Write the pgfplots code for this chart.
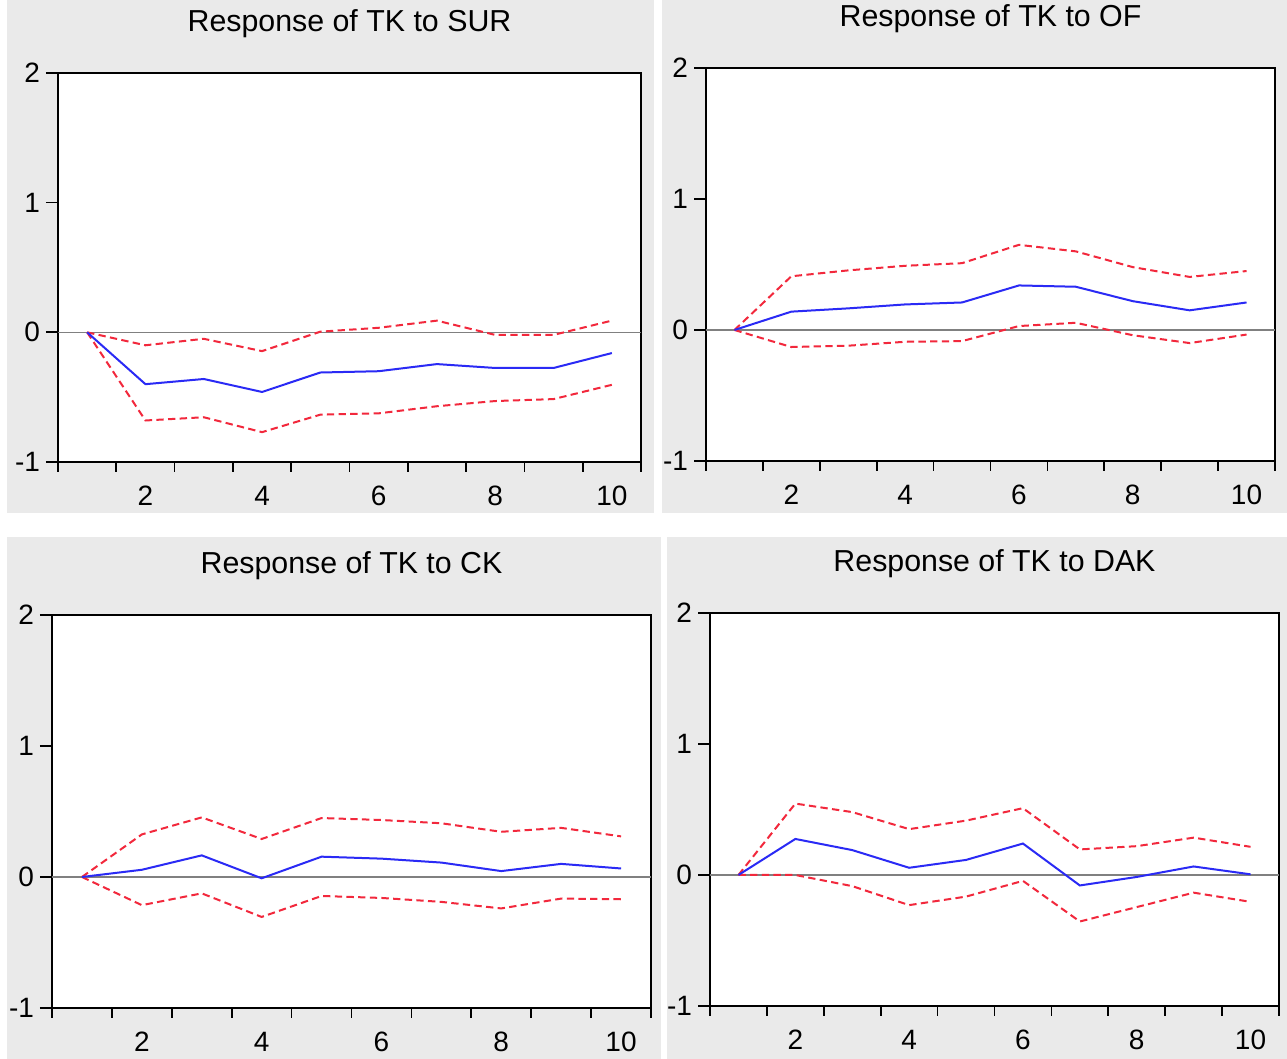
\documentclass[border=0pt]{standalone}
\usepackage{fontspec}
\setmainfont{Liberation Sans}
\usepackage{pgfplots}
\pgfplotsset{compat=1.18}
\definecolor{evgray}{HTML}{EAEAEA}
\definecolor{evblue}{HTML}{2A2AF5}
\definecolor{evred}{HTML}{F2283C}
\pgfplotsset{
  irf/.style={scale only axis, xmin=0.5, xmax=10.5, ymin=-1, ymax=2,
    axis background/.style={fill=white},
    axis line style={line width=0.7pt},
    xtick={2,4,6,8,10}, xticklabels={2,4,6,8,10},
    ytick={-1,0,1,2}, yticklabels={\llap{-1},\llap{0},\llap{1},\llap{2}},
    minor xtick={0.5,1.5,...,10.5},
    tick align=outside, xtick pos=bottom, ytick pos=left,
    major x tick style={draw=none},
    minor tick length=3pt, major tick length=3.6pt,
    tick style={black, line width=0.5pt},
    ticklabel style={font=\fontsize{8.4}{10}\selectfont},
    xticklabel style={anchor=center, yshift=-6.6pt},
    yticklabel style={anchor=center, xshift=-1.8pt},
    title style={at={(0.5,1)}, anchor=center, yshift=8.7pt,
      font=\fontsize{9.1}{10}\selectfont},
  },
  resp/.style={evblue, line width=0.6pt},
  band/.style={evred, line width=0.6pt, dash pattern=on 2.2pt off 1.3pt},
  zero/.style={gray, line width=0.35pt},
}
\begin{document}
\begin{tikzpicture}[x=1pt,y=1pt]
\useasboundingbox (0,0) rectangle (386.1,317.7);
\fill[white] (0,0) rectangle (386.1,317.7);
\fill[evgray] (2.1,163.8) rectangle (196.2,317.7);
\fill[evgray] (198.6,163.8) rectangle (386.1,317.7);
\fill[evgray] (2.1,0) rectangle (198.3,156.6);
\fill[evgray] (200.1,0) rectangle (386.1,156.6);

% Response of TK to SUR
\begin{axis}[irf, at={(17.4pt,179.1pt)}, anchor=south west,
  width=174.9pt, height=116.7pt, title={Response of TK to SUR}]
\addplot[zero] coordinates {(0.5,0) (10.5,0)};
\addplot[band] coordinates {(1,0) (2,-0.10) (3,-0.05) (4,-0.145) (5,0.005) (6,0.035) (7,0.09) (8,-0.02) (9,-0.02) (10,0.09)};
\addplot[band] coordinates {(1,0) (2,-0.68) (3,-0.655) (4,-0.77) (5,-0.635) (6,-0.625) (7,-0.57) (8,-0.53) (9,-0.515) (10,-0.405)};
\addplot[resp] coordinates {(1,0) (2,-0.40) (3,-0.36) (4,-0.46) (5,-0.31) (6,-0.30) (7,-0.245) (8,-0.275) (9,-0.275) (10,-0.16)};
\end{axis}

% Response of TK to OF
\begin{axis}[irf, at={(211.8pt,179.4pt)}, anchor=south west,
  width=170.7pt, height=117.9pt, title={Response of TK to OF}]
\addplot[zero] coordinates {(0.5,0) (10.5,0)};
\addplot[band] coordinates {(1,0) (2,0.41) (3,0.455) (4,0.49) (5,0.51) (6,0.65) (7,0.60) (8,0.48) (9,0.405) (10,0.45)};
\addplot[band] coordinates {(1,0) (2,-0.13) (3,-0.12) (4,-0.09) (5,-0.085) (6,0.03) (7,0.055) (8,-0.04) (9,-0.10) (10,-0.035)};
\addplot[resp] coordinates {(1,0) (2,0.14) (3,0.165) (4,0.195) (5,0.21) (6,0.34) (7,0.33) (8,0.22) (9,0.15) (10,0.21)};
\end{axis}

% Response of TK to CK
\begin{axis}[irf, at={(15.6pt,15.3pt)}, anchor=south west,
  width=179.7pt, height=117.9pt, title={Response of TK to CK}]
\addplot[zero] coordinates {(0.5,0) (10.5,0)};
\addplot[band] coordinates {(1,0) (2,0.325) (3,0.455) (4,0.29) (5,0.45) (6,0.435) (7,0.41) (8,0.345) (9,0.375) (10,0.31)};
\addplot[band] coordinates {(1,0) (2,-0.215) (3,-0.125) (4,-0.305) (5,-0.145) (6,-0.16) (7,-0.19) (8,-0.24) (9,-0.165) (10,-0.17)};
\addplot[resp] coordinates {(1,0) (2,0.055) (3,0.165) (4,-0.01) (5,0.155) (6,0.14) (7,0.11) (8,0.045) (9,0.10) (10,0.065)};
\end{axis}

% Response of TK to DAK
\begin{axis}[irf, at={(213pt,15.9pt)}, anchor=south west,
  width=170.7pt, height=117.9pt, title={Response of TK to DAK}]
\addplot[zero] coordinates {(0.5,0) (10.5,0)};
\addplot[band] coordinates {(1,0) (2,0.545) (3,0.48) (4,0.35) (5,0.415) (6,0.51) (7,0.195) (8,0.22) (9,0.285) (10,0.215)};
\addplot[band] coordinates {(1,0) (2,0.0) (3,-0.085) (4,-0.23) (5,-0.165) (6,-0.045) (7,-0.355) (8,-0.245) (9,-0.135) (10,-0.205)};
\addplot[resp] coordinates {(1,0) (2,0.275) (3,0.19) (4,0.055) (5,0.115) (6,0.24) (7,-0.08) (8,-0.015) (9,0.065) (10,0.005)};
\end{axis}
\end{tikzpicture}
\end{document}
